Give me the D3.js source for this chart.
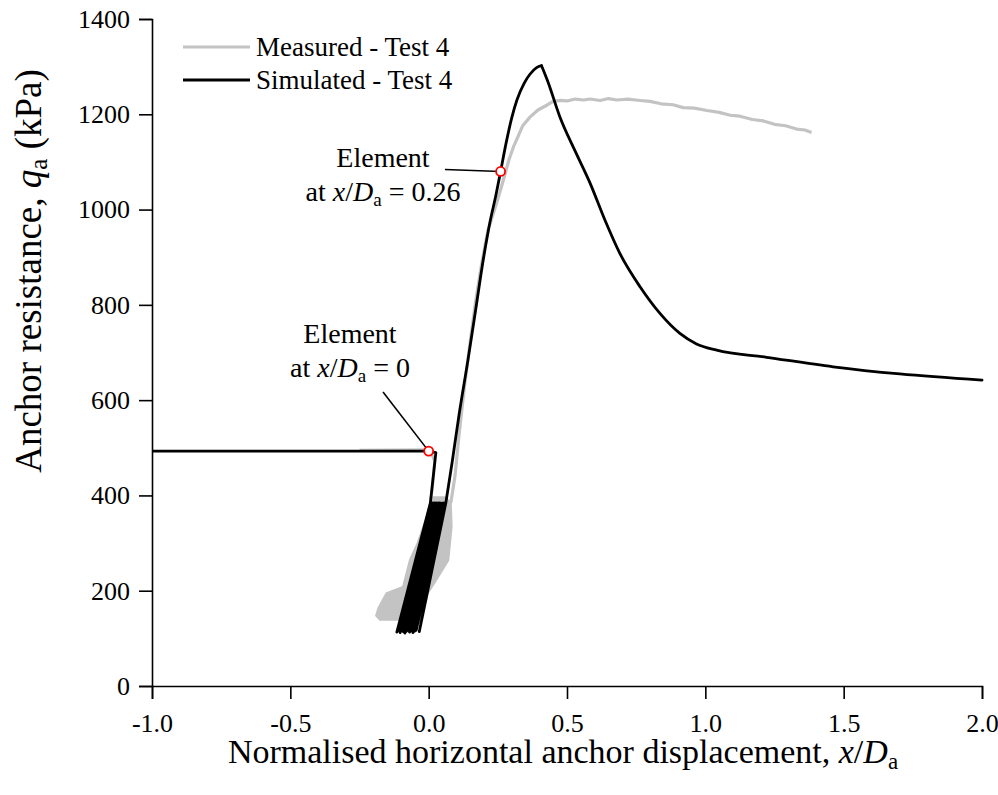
<!DOCTYPE html>
<html>
<head>
<meta charset="utf-8">
<script src="https://cdn.jsdelivr.net/npm/d3@7"></script>
<style>
  body { margin: 0; background: #fff; }
  text { font-family: "Liberation Serif", "Times New Roman", serif; fill: #000; }
</style>
</head>
<body>
<svg id="chart" width="998" height="795"></svg>
<script>
// Axis ticks
const xTicks = [-1.0, -0.5, 0.0, 0.5, 1.0, 1.5, 2.0];
const yTicks = [0, 200, 400, 600, 800, 1000, 1200, 1400];

// Simulated - Test 4: installation state, then cyclic phase, then monotonic pull-out
const simStart = [[-1.0, 493], [0.0, 493], [0.026, 490], [0.006, 384]];
const simCycleTopQ = 384;
const simCycleTopX = [0.006, 0.010, 0.015, 0.019, 0.023, 0.028, 0.031, 0.036, 0.040, 0.043, 0.048, 0.052, 0.055, 0.059];
const simCycleBottomX = [-0.115, -0.109, -0.103, -0.098, -0.092, -0.086, -0.080, -0.075, -0.069, -0.063, -0.057, -0.051, -0.045, -0.034];
const simCycleBottomQ = [113, 116, 112, 117, 114, 111, 115, 117, 113, 116, 112, 115, 117, 114];
const simRise = [
  [0.062, 384], [0.085, 470], [0.110, 570], [0.142, 684], [0.170, 790], [0.196, 890],
  [0.222, 975], [0.243, 1030], [0.260, 1080], [0.280, 1140], [0.300, 1192], [0.319, 1230],
  [0.345, 1265], [0.366, 1284], [0.390, 1298], [0.408, 1302]
];
const simSoften = [
  [0.408, 1302], [0.430, 1270], [0.474, 1195], [0.530, 1122], [0.583, 1056], [0.637, 978],
  [0.691, 908], [0.764, 838], [0.836, 782], [0.908, 740], [0.968, 718], [1.041, 705],
  [1.221, 690], [1.462, 670], [1.703, 655], [2.0, 642]
];

// Measured - Test 4
const measuredStart = [[-0.25, 495], [0.004, 496], [0.022, 472], [0.014, 420], [0.008, 390]];
const measuredLoopEnvelope = [
  [0.005, 384], [-0.007, 355], [-0.040, 300], [-0.068, 264], [-0.093, 208], [-0.152, 195],
  [-0.182, 163], [-0.190, 148], [-0.176, 139], [-0.104, 139], [-0.031, 132], [-0.021, 153],
  [-0.003, 195], [0.034, 229], [0.071, 264], [0.083, 334], [0.080, 384], [0.060, 396], [0.010, 396]
];
const measuredMonotonic = [
  [0.080, 384], [0.095, 440], [0.110, 528], [0.130, 632], [0.150, 722], [0.170, 808], [0.192, 888],
  [0.215, 958], [0.245, 1012], [0.268, 1058], [0.290, 1104], [0.306, 1131], [0.322, 1152],
  [0.340, 1176], [0.366, 1194], [0.395, 1209], [0.427, 1219], [0.450, 1227], [0.474, 1229],
  [0.500, 1228], [0.530, 1232], [0.560, 1230], [0.583, 1232], [0.620, 1229], [0.650, 1233],
  [0.680, 1230], [0.720, 1232], [0.764, 1229], [0.800, 1227], [0.840, 1222], [0.883, 1220],
  [0.920, 1214], [0.960, 1213], [1.006, 1208], [1.050, 1204], [1.090, 1198], [1.125, 1196],
  [1.170, 1189], [1.210, 1186], [1.250, 1179], [1.290, 1176], [1.330, 1169], [1.360, 1167],
  [1.384, 1162]
];

// Highlighted elements (label anchor given in pixels of the figure)
const elements = [
  { x: 0.0, q: 493, label: "0", textX: 350, line1: 343, line2: 377, leader: [-0.165, 617] },
  { x: 0.26, q: 1080, label: "0.26", textX: 383, line1: 167, line2: 201, leader: [0.059, 1084] }
];

const legendItems = [
  { name: "Measured - Test 4", color: "#c3c3c3" },
  { name: "Simulated - Test 4", color: "#000000" }
];

const svg = d3.select("#chart");
const margin = { left: 152, top: 19, right: 16, bottom: 109 };
const width = 998 - margin.left - margin.right;
const height = 795 - margin.top - margin.bottom;

const x = d3.scaleLinear().domain([-1.0, 2.0]).range([0, width]);
const y = d3.scaleLinear().domain([0, 1400]).range([height, 0]);

const g = svg.append("g").attr("transform", `translate(${margin.left},${margin.top})`);

const line = d3.line().x(d => x(d[0])).y(d => y(d[1]));
const smooth = d3.line().x(d => x(d[0])).y(d => y(d[1])).curve(d3.curveMonotoneX);

const grey = "#c3c3c3";

// Measured curve
g.append("path")
  .datum(measuredLoopEnvelope)
  .attr("d", d => line(d) + "Z")
  .attr("fill", grey)
  .attr("stroke", grey)
  .attr("stroke-width", 2)
  .attr("stroke-linejoin", "round");

g.append("path")
  .datum(measuredStart)
  .attr("d", line)
  .attr("fill", "none")
  .attr("stroke", grey)
  .attr("stroke-width", 3);

g.append("path")
  .datum(measuredMonotonic)
  .attr("d", line)
  .attr("fill", "none")
  .attr("stroke", grey)
  .attr("stroke-width", 3.2)
  .attr("stroke-linejoin", "round");

// Simulated curve: loading history drawn point to point, pull-out branches smoothed
const simPath = simStart.slice();
simCycleTopX.forEach((xt, i) => {
  simPath.push([xt, simCycleTopQ]);
  simPath.push([simCycleBottomX[i], simCycleBottomQ[i]]);
});
simPath.push(simRise[0]);

g.append("path")
  .datum(simPath)
  .attr("d", line)
  .attr("fill", "none")
  .attr("stroke", "#000")
  .attr("stroke-width", 2.8)
  .attr("stroke-linejoin", "round");

[simRise, simSoften].forEach(branch => {
  g.append("path")
    .datum(branch)
    .attr("d", smooth)
    .attr("fill", "none")
    .attr("stroke", "#000")
    .attr("stroke-width", 2.8)
    .attr("stroke-linejoin", "round")
    .attr("stroke-linecap", "round");
});

// Axes
const xAxis = g.append("g")
  .attr("transform", `translate(0,${height})`)
  .call(d3.axisBottom(x).tickValues(xTicks).tickFormat(d => d.toFixed(1)).tickSize(13).tickPadding(10));
const yAxis = g.append("g")
  .call(d3.axisLeft(y).tickValues(yTicks).tickFormat(d => String(d)).tickSize(13).tickPadding(9));

[xAxis, yAxis].forEach(ax => {
  ax.select(".domain").attr("stroke", "#000").attr("stroke-width", 1.6);
  ax.selectAll(".tick line").attr("stroke", "#000").attr("stroke-width", 1.6);
  ax.selectAll(".tick text")
    .style("font-family", '"Liberation Serif", "Times New Roman", serif')
    .style("font-size", "26px")
    .attr("fill", "#000");
});
xAxis.selectAll(".tick text").attr("dy", "0.9em");

// Axis titles
const xTitle = svg.append("text")
  .attr("x", 563)
  .attr("y", 763)
  .attr("text-anchor", "middle")
  .style("font-size", "34px");
xTitle.append("tspan").text("Normalised horizontal anchor displacement, ");
xTitle.append("tspan").style("font-style", "italic").text("x");
xTitle.append("tspan").text("/");
xTitle.append("tspan").style("font-style", "italic").text("D");
xTitle.append("tspan").attr("baseline-shift", "-25%").style("font-size", "23px").text("a");

const yTitle = svg.append("text")
  .attr("transform", "translate(41,271) rotate(-90)")
  .attr("text-anchor", "middle")
  .style("font-size", "37px");
yTitle.append("tspan").text("Anchor resistance, ");
yTitle.append("tspan").style("font-style", "italic").text("q");
yTitle.append("tspan").attr("baseline-shift", "-25%").style("font-size", "25px").text("a");
yTitle.append("tspan").text(" (kPa)");

// Legend
const legend = svg.append("g");
legendItems.forEach((item, i) => {
  const ly = 47 + i * 33;
  legend.append("line")
    .attr("x1", 183).attr("x2", 250).attr("y1", ly).attr("y2", ly)
    .attr("stroke", item.color).attr("stroke-width", i === 0 ? 3.2 : 2.8);
  legend.append("text")
    .attr("x", 256).attr("y", ly + 9)
    .style("font-size", "27px")
    .text(item.name);
});

// Element annotations
elements.forEach(el => {
  g.append("line")
    .attr("x1", x(el.leader[0])).attr("y1", y(el.leader[1]))
    .attr("x2", x(el.x)).attr("y2", y(el.q))
    .attr("stroke", "#000").attr("stroke-width", 1.6);
  svg.append("text")
    .attr("x", el.textX).attr("y", el.line1)
    .attr("text-anchor", "middle")
    .style("font-size", "28px")
    .text("Element");
  const t2 = svg.append("text")
    .attr("x", el.textX).attr("y", el.line2)
    .attr("text-anchor", "middle")
    .style("font-size", "28px");
  t2.append("tspan").text("at ");
  t2.append("tspan").style("font-style", "italic").text("x");
  t2.append("tspan").text("/");
  t2.append("tspan").style("font-style", "italic").text("D");
  t2.append("tspan").attr("baseline-shift", "-25%").style("font-size", "19px").text("a");
  t2.append("tspan").text(" = " + el.label);
  g.append("circle")
    .attr("cx", x(el.x)).attr("cy", y(el.q)).attr("r", 4.5)
    .attr("fill", "#fff").attr("stroke", "#ff0000").attr("stroke-width", 1.8);
});
</script>
</body>
</html>
